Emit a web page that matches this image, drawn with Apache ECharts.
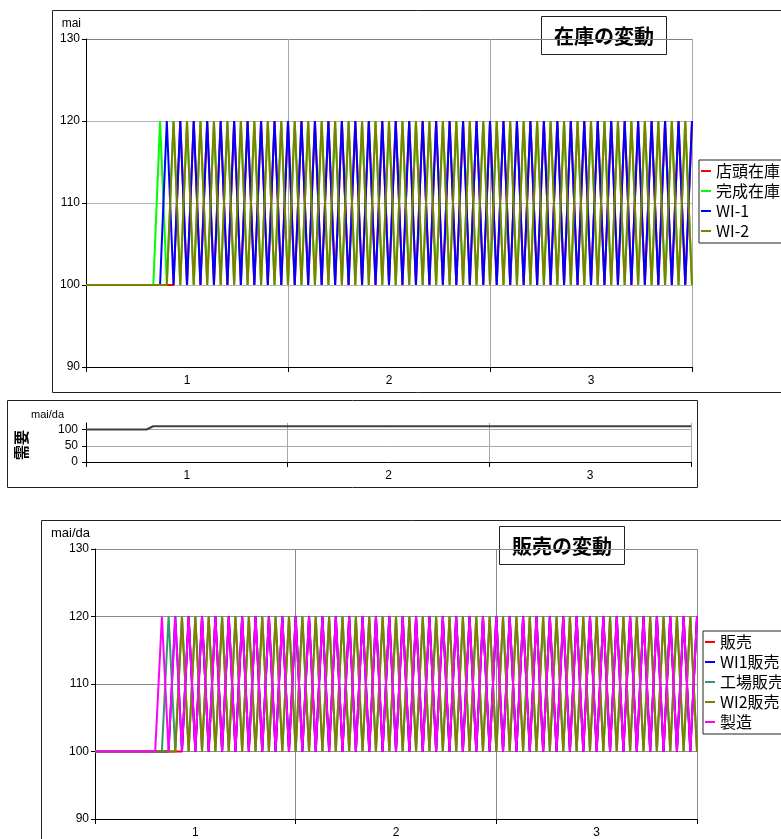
<!DOCTYPE html>
<html>
<head>
<meta charset="utf-8">
<script src="https://cdn.jsdelivr.net/npm/echarts@6/dist/echarts.min.js"></script>
<style>
  html, body { margin: 0; padding: 0; background: #fff; }
  #chart { width: 781px; height: 839px; }
</style>
</head>
<body>
<div id="chart"></div>
<script>
// 91 daily steps, grouped into 3 periods on the visible axis
const days = Array.from({ length: 91 }, (_, i) => String(i));
const periodLabels = ['1', '2', '3'];

// 在庫の変動
const shelfStock = [
  100, 100, 100, 100, 100, 100, 100, 100, 100, 100,
  100, 100, 100, 100, 120, 100, 120, 100, 120, 100,
  120, 100, 120, 100, 120, 100, 120, 100, 120, 100,
  120, 100, 120, 100, 120, 100, 120, 100, 120, 100,
  120, 100, 120, 100, 120, 100, 120, 100, 120, 100,
  120, 100, 120, 100, 120, 100, 120, 100, 120, 100,
  120, 100, 120, 100, 120, 100, 120, 100, 120, 100,
  120, 100, 120, 100, 120, 100, 120, 100, 120, 100,
  120, 100, 120, 100, 120, 100, 120, 100, 120, 100,
  120
];
const finishedStock = [
  100, 100, 100, 100, 100, 100, 100, 100, 100, 100,
  100, 120, 100, 120, 100, 120, 100, 120, 100, 120,
  100, 120, 100, 120, 100, 120, 100, 120, 100, 120,
  100, 120, 100, 120, 100, 120, 100, 120, 100, 120,
  100, 120, 100, 120, 100, 120, 100, 120, 100, 120,
  100, 120, 100, 120, 100, 120, 100, 120, 100, 120,
  100, 120, 100, 120, 100, 120, 100, 120, 100, 120,
  100, 120, 100, 120, 100, 120, 100, 120, 100, 120,
  100, 120, 100, 120, 100, 120, 100, 120, 100, 120,
  100
];
const wi1Stock = [
  100, 100, 100, 100, 100, 100, 100, 100, 100, 100,
  100, 100, 120, 100, 120, 100, 120, 100, 120, 100,
  120, 100, 120, 100, 120, 100, 120, 100, 120, 100,
  120, 100, 120, 100, 120, 100, 120, 100, 120, 100,
  120, 100, 120, 100, 120, 100, 120, 100, 120, 100,
  120, 100, 120, 100, 120, 100, 120, 100, 120, 100,
  120, 100, 120, 100, 120, 100, 120, 100, 120, 100,
  120, 100, 120, 100, 120, 100, 120, 100, 120, 100,
  120, 100, 120, 100, 120, 100, 120, 100, 120, 100,
  120
];
const wi2Stock = [
  100, 100, 100, 100, 100, 100, 100, 100, 100, 100,
  100, 100, 100, 120, 100, 120, 100, 120, 100, 120,
  100, 120, 100, 120, 100, 120, 100, 120, 100, 120,
  100, 120, 100, 120, 100, 120, 100, 120, 100, 120,
  100, 120, 100, 120, 100, 120, 100, 120, 100, 120,
  100, 120, 100, 120, 100, 120, 100, 120, 100, 120,
  100, 120, 100, 120, 100, 120, 100, 120, 100, 120,
  100, 120, 100, 120, 100, 120, 100, 120, 100, 120,
  100, 120, 100, 120, 100, 120, 100, 120, 100, 120,
  100
];

// 需要
const demand = [
  100, 100, 100, 100, 100, 100, 100, 100, 100, 100,
  110, 110, 110, 110, 110, 110, 110, 110, 110, 110,
  110, 110, 110, 110, 110, 110, 110, 110, 110, 110,
  110, 110, 110, 110, 110, 110, 110, 110, 110, 110,
  110, 110, 110, 110, 110, 110, 110, 110, 110, 110,
  110, 110, 110, 110, 110, 110, 110, 110, 110, 110,
  110, 110, 110, 110, 110, 110, 110, 110, 110, 110,
  110, 110, 110, 110, 110, 110, 110, 110, 110, 110,
  110, 110, 110, 110, 110, 110, 110, 110, 110, 110,
  110
];

// 販売の変動
const sales = [
  100, 100, 100, 100, 100, 100, 100, 100, 100, 100,
  100, 100, 100, 100, 120, 100, 120, 100, 120, 100,
  120, 100, 120, 100, 120, 100, 120, 100, 120, 100,
  120, 100, 120, 100, 120, 100, 120, 100, 120, 100,
  120, 100, 120, 100, 120, 100, 120, 100, 120, 100,
  120, 100, 120, 100, 120, 100, 120, 100, 120, 100,
  120, 100, 120, 100, 120, 100, 120, 100, 120, 100,
  120, 100, 120, 100, 120, 100, 120, 100, 120, 100,
  120, 100, 120, 100, 120, 100, 120, 100, 120, 100,
  120
];
const wi1Sales = [
  100, 100, 100, 100, 100, 100, 100, 100, 100, 100,
  100, 100, 120, 100, 120, 100, 120, 100, 120, 100,
  120, 100, 120, 100, 120, 100, 120, 100, 120, 100,
  120, 100, 120, 100, 120, 100, 120, 100, 120, 100,
  120, 100, 120, 100, 120, 100, 120, 100, 120, 100,
  120, 100, 120, 100, 120, 100, 120, 100, 120, 100,
  120, 100, 120, 100, 120, 100, 120, 100, 120, 100,
  120, 100, 120, 100, 120, 100, 120, 100, 120, 100,
  120, 100, 120, 100, 120, 100, 120, 100, 120, 100,
  120
];
const factorySales = [
  100, 100, 100, 100, 100, 100, 100, 100, 100, 100,
  100, 120, 100, 120, 100, 120, 100, 120, 100, 120,
  100, 120, 100, 120, 100, 120, 100, 120, 100, 120,
  100, 120, 100, 120, 100, 120, 100, 120, 100, 120,
  100, 120, 100, 120, 100, 120, 100, 120, 100, 120,
  100, 120, 100, 120, 100, 120, 100, 120, 100, 120,
  100, 120, 100, 120, 100, 120, 100, 120, 100, 120,
  100, 120, 100, 120, 100, 120, 100, 120, 100, 120,
  100, 120, 100, 120, 100, 120, 100, 120, 100, 120,
  100
];
const wi2Sales = [
  100, 100, 100, 100, 100, 100, 100, 100, 100, 100,
  100, 100, 100, 120, 100, 120, 100, 120, 100, 120,
  100, 120, 100, 120, 100, 120, 100, 120, 100, 120,
  100, 120, 100, 120, 100, 120, 100, 120, 100, 120,
  100, 120, 100, 120, 100, 120, 100, 120, 100, 120,
  100, 120, 100, 120, 100, 120, 100, 120, 100, 120,
  100, 120, 100, 120, 100, 120, 100, 120, 100, 120,
  100, 120, 100, 120, 100, 120, 100, 120, 100, 120,
  100, 120, 100, 120, 100, 120, 100, 120, 100, 120,
  100
];
const production = [
  100, 100, 100, 100, 100, 100, 100, 100, 100, 100,
  120, 100, 120, 100, 120, 100, 120, 100, 120, 100,
  120, 100, 120, 100, 120, 100, 120, 100, 120, 100,
  120, 100, 120, 100, 120, 100, 120, 100, 120, 100,
  120, 100, 120, 100, 120, 100, 120, 100, 120, 100,
  120, 100, 120, 100, 120, 100, 120, 100, 120, 100,
  120, 100, 120, 100, 120, 100, 120, 100, 120, 100,
  120, 100, 120, 100, 120, 100, 120, 100, 120, 100,
  120, 100, 120, 100, 120, 100, 120, 100, 120, 100,
  120
];

const latin = '"Liberation Sans", Arial, sans-serif';
const jp = '"Noto Sans CJK JP", sans-serif';

const chart = echarts.init(document.getElementById('chart'), null, { renderer: 'canvas' });

// hidden axis that carries the daily points
function dayAxis(gridIndex) {
  return { type: 'category', gridIndex, position: 'bottom', data: days, boundaryGap: false, show: false };
}
// visible axis: period labels, ticks and vertical grid lines
function periodAxis(gridIndex, gridColor) {
  return {
    type: 'category', gridIndex, position: 'bottom', data: periodLabels, boundaryGap: true,
    axisLine: { show: true, lineStyle: { color: '#000', width: 1 } },
    axisTick: { show: true, length: 5, lineStyle: { color: '#000' } },
    axisLabel: { color: '#000', fontSize: 12, fontFamily: latin, margin: 8 },
    splitLine: { show: true, lineStyle: { color: gridColor, width: 1 } }
  };
}
function valueAxis(gridIndex, opts) {
  return Object.assign({
    type: 'value', gridIndex,
    nameLocation: 'end',
    axisLine: { show: true, lineStyle: { color: '#000', width: 1 } },
    axisTick: { show: true, length: 4, lineStyle: { color: '#000' } },
    axisLabel: { color: '#000', fontSize: 12, fontFamily: latin, margin: 6 }
  }, opts);
}
function lineSeries(name, data, color, axisIdx) {
  return {
    name, type: 'line', data, xAxisIndex: axisIdx * 2, yAxisIndex: axisIdx,
    symbol: 'none', color,
    lineStyle: { color, width: 2 },
    emphasis: { disabled: true }
  };
}
function frame(x, y, w, h) {
  return { type: 'rect', z: 0, shape: { x, y, width: w, height: h }, style: { fill: 'none', stroke: '#222', lineWidth: 1 } };
}
function titleBox(x, y, text) {
  return {
    type: 'group', x, y, z: 100,
    children: [
      { type: 'rect', shape: { x: 0.5, y: 0.5, width: 125, height: 38 }, style: { fill: '#fff', stroke: '#222', lineWidth: 1 } },
      { type: 'text', x: 63, y: 20, style: { text, font: 'bold 20px ' + jp, fill: '#000', align: 'center', verticalAlign: 'middle' } }
    ]
  };
}
function legendBox(left, top, names) {
  return {
    data: names, orient: 'vertical', left, top,
    borderColor: '#222', borderWidth: 1, padding: [1, 40, 2, 2],
    itemGap: 0, itemWidth: 10, itemHeight: 2, icon: 'rect',
    textStyle: { color: '#000', fontSize: 16, lineHeight: 20, fontFamily: jp }
  };
}

const option = {
  animation: false,
  backgroundColor: '#fff',
  grid: [
    { left: 86, top: 39, width: 606, height: 328 },
    { left: 86, top: 423, width: 605, height: 39 },
    { left: 95, top: 549, width: 602, height: 270 }
  ],
  xAxis: [
    dayAxis(0), periodAxis(0, '#a8a8a8'),
    dayAxis(1), periodAxis(1, '#a8a8a8'),
    dayAxis(2), periodAxis(2, '#8c8c8c')
  ],
  yAxis: [
    valueAxis(0, {
      min: 90, max: 130, interval: 10, name: 'mai', nameGap: 9,
      nameTextStyle: { color: '#000', fontSize: 12, fontFamily: latin, align: 'right', padding: [0, 5, 0, 0] },
      splitLine: { show: true, lineStyle: { color: ['#b4b4b4', '#b4b4b4', '#b4b4b4', '#b4b4b4', '#808080'] } }
    }),
    valueAxis(1, {
      min: 0, max: 120, interval: 50, name: 'mai/da', nameGap: 3,
      nameTextStyle: { color: '#000', fontSize: 11, fontFamily: latin, align: 'right', padding: [0, 22, 0, 0] },
      axisTick: { show: true, length: 4, lineStyle: { color: '#000' }, customValues: [0, 50, 100] },
      axisLabel: { color: '#000', fontSize: 12, fontFamily: latin, margin: 8, customValues: [0, 50, 100] },
      splitLine: { show: true, lineStyle: { color: ['#a8a8a8', '#a8a8a8', '#a8a8a8', 'rgba(0,0,0,0)'] } }
    }),
    valueAxis(2, {
      min: 90, max: 130, interval: 10, name: 'mai/da', nameGap: 9,
      nameTextStyle: { color: '#000', fontSize: 13, fontFamily: latin, align: 'right', padding: [0, 5, 0, 0] },
      splitLine: { show: true, lineStyle: { color: '#8c8c8c' } }
    })
  ],
  legend: [
    legendBox(699, 160, ['店頭在庫', '完成在庫', 'WI-1', 'WI-2']),
    legendBox(703, 631, ['販売', 'WI1販売', '工場販売', 'WI2販売', '製造'])
  ],
  graphic: [
    frame(52.5, 10.5, 740, 382),
    frame(7.5, 400.5, 690, 87),
    frame(41.5, 520.5, 760, 330),
    titleBox(541, 16, '在庫の変動'),
    titleBox(499, 526, '販売の変動'),
    {
      type: 'text', x: 21, y: 445, rotation: Math.PI / 2,
      style: { text: '需要', font: 'bold 15px ' + jp, fill: '#000', align: 'center', verticalAlign: 'middle' }
    }
  ],
  series: [
    lineSeries('店頭在庫', shelfStock, '#ff0000', 0),
    lineSeries('完成在庫', finishedStock, '#00ff00', 0),
    lineSeries('WI-1', wi1Stock, '#0000ff', 0),
    lineSeries('WI-2', wi2Stock, '#808000', 0),
    lineSeries('需要', demand, '#404040', 1),
    lineSeries('販売', sales, '#ff0000', 2),
    lineSeries('WI1販売', wi1Sales, '#0000ff', 2),
    lineSeries('工場販売', factorySales, '#339966', 2),
    lineSeries('WI2販売', wi2Sales, '#808000', 2),
    lineSeries('製造', production, '#ff00ff', 2)
  ]
};

chart.setOption(option);
window.addEventListener('resize', () => chart.resize());
</script>
</body>
</html>
